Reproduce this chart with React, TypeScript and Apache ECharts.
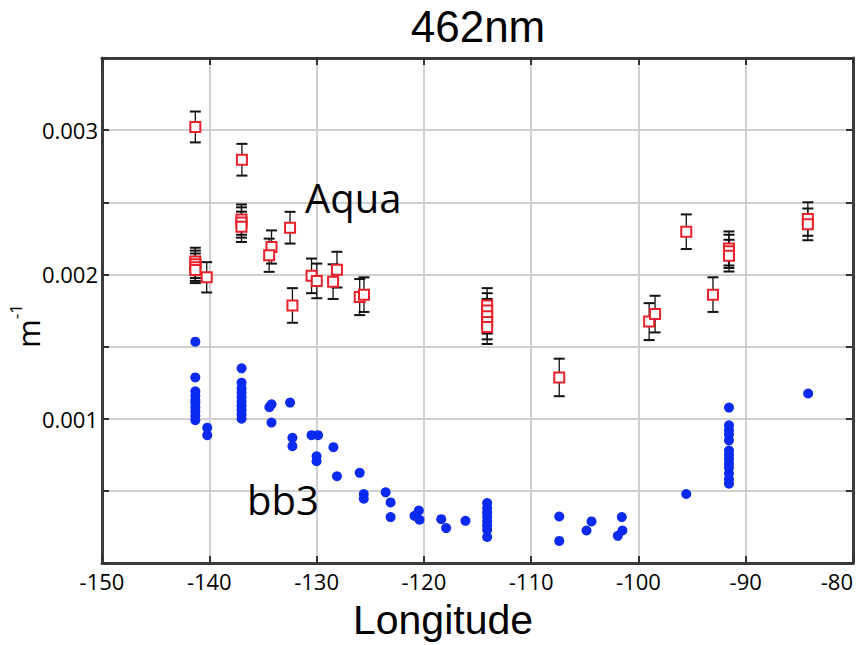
import React, { useEffect, useRef } from "react";
import * as echarts from "echarts";

// Longitude tick range
const xTicks = [-150, -140, -130, -120, -110, -100, -90, -80];

// Aqua (red squares with error bars)
const aquaLon = [
  -141.3, -141.3, -141.3, -141.3, -141.3, -140.24, -136.96, -137.0, -137.0, -137.0,
  -134.2, -134.42, -132.47, -132.25, -130.47, -129.98, -128.46, -128.1, -125.98, -125.58,
  -114.1, -114.1, -114.1, -114.1, -114.1, -107.38, -99.0, -98.45, -95.54, -93.05,
  -91.56, -91.56, -91.56, -84.21, -84.21,
];
const aquaVal = [
  0.003022, 0.00209, 0.00207, 0.00205, 0.00203, 0.00198, 0.002795, 0.00238, 0.00236, 0.00233,
  0.00219, 0.002133, 0.002324, 0.001785, 0.00199, 0.001955, 0.00195, 0.002033, 0.001843, 0.00186,
  0.001785, 0.00175, 0.00171, 0.00167, 0.001635, 0.001286, 0.001673, 0.001725, 0.002296, 0.00186,
  0.00218, 0.00216, 0.00213, 0.002384, 0.002347,
];
const aquaErr = [
  0.000107, 0.000095, 0.000095, 0.000095, 0.00009, 0.000105, 0.00011, 0.000105, 0.000105, 0.000105,
  0.000115, 0.000115, 0.00011, 0.00012, 0.00012, 0.00012, 0.00012, 0.000124, 0.000125, 0.00012,
  0.00012, 0.00012, 0.00012, 0.00012, 0.000117, 0.00013, 0.000128, 0.000127, 0.00012, 0.00012,
  0.000118, 0.000115, 0.00011, 0.000116, 0.00011,
];

// bb3 (blue dots)
const bb3Lon = [
  -141.3, -141.3, -141.3, -141.3, -141.3, -141.3, -141.3, -141.3, -141.3, -141.3,
  -140.19, -140.19,
  -136.99, -136.99, -136.99, -136.99, -136.99, -136.99, -136.99, -136.99, -136.99, -136.99,
  -134.2, -134.4, -134.2, -132.47, -132.25, -132.25, -130.47, -129.86, -130.0, -130.0,
  -128.43, -128.1, -125.98, -125.6, -125.6, -123.56, -123.1, -123.1,
  -120.87, -120.47, -120.4, -118.38, -117.92, -116.12,
  -114.1, -114.1, -114.1, -114.1, -114.1, -114.1, -114.1, -114.1,
  -107.38, -107.38, -104.84, -104.37, -101.55, -101.49, -101.92, -95.54,
  -91.56, -91.56, -91.56, -91.56, -91.56, -91.56, -91.56, -91.56, -91.56, -91.56, -91.56, -91.56, -91.56,
  -84.18,
];
const bb3Val = [
  0.001534, 0.001286, 0.00119, 0.00116, 0.00113, 0.00111, 0.00108, 0.00105, 0.00102, 0.00099,
  0.000938, 0.000886,
  0.001349, 0.00125, 0.00121, 0.00118, 0.00115, 0.00112, 0.00109, 0.00106, 0.00103, 0.001,
  0.0011, 0.00108, 0.000973, 0.001112, 0.000868, 0.00081, 0.000886, 0.000886, 0.00074, 0.000705,
  0.000803, 0.000601, 0.000625, 0.000478, 0.000446, 0.00049, 0.00042, 0.000318,
  0.000327, 0.000364, 0.0003, 0.000304, 0.000242, 0.000292,
  0.000416, 0.00038, 0.00035, 0.00032, 0.00029, 0.00026, 0.00023, 0.00018,
  0.000322, 0.000153, 0.000225, 0.000288, 0.000318, 0.000225, 0.000188, 0.000478,
  0.001077, 0.000954, 0.00092, 0.00089, 0.00085, 0.00078, 0.00075, 0.00072, 0.00069, 0.00066, 0.00062, 0.00058, 0.00055,
  0.001175,
];

const FONT = '"Open Sans", "Noto Sans", sans-serif';
const FONT2 = '"Liberation Sans", Arial, sans-serif';

export default function App() {
  const ref = useRef<HTMLDivElement>(null);
  useEffect(() => {
    if (!ref.current) return;
    const chart = echarts.init(ref.current, null, { renderer: "svg" });
    const tickStyle = { color: "#333", width: 2 };
    const boxLine = { show: true, onZero: false, lineStyle: { color: "#3c3c3c", width: 3 } };
    const yLabelFmt = (v: number) => {
      const k = Math.round(v * 10000);
      if (k > 0 && k % 10 === 0 && k < 35) return (k / 10000).toFixed(3);
      return "";
    };
    const option: any = {
      animation: false,
      backgroundColor: "#fff",
      grid: {
        left: 102,
        right: 8,
        top: 58,
        bottom: 82,
        show: false,
      },
      xAxis: [
        {
          type: "value",
          min: xTicks[0],
          max: xTicks[xTicks.length - 1],
          interval: 10,
          position: "bottom",
          axisLine: boxLine,
          axisTick: { inside: true, length: 7, lineStyle: tickStyle },
          axisLabel: {
            fontFamily: FONT,
            fontSize: 22,
            color: "#000",
            margin: 7,
            alignMaxLabel: "right",
          },
          splitLine: { show: true, lineStyle: { color: "#d0d0d0", width: 2 } },
        },
        {
          type: "value",
          min: xTicks[0],
          max: xTicks[xTicks.length - 1],
          interval: 10,
          position: "top",
          axisLine: boxLine,
          axisTick: { inside: true, length: 7, lineStyle: tickStyle },
          axisLabel: { show: false },
          splitLine: { show: false },
        },
      ],
      yAxis: [
        {
          type: "value",
          min: 0,
          max: 0.0035,
          interval: 0.0005,
          position: "left",
          axisLine: boxLine,
          axisTick: { inside: true, length: 7, lineStyle: tickStyle },
          axisLabel: {
            fontFamily: FONT,
            fontSize: 22,
            color: "#000",
            margin: 4,
            formatter: yLabelFmt,
          },
          splitLine: { show: true, lineStyle: { color: "#d0d0d0", width: 2 } },
        },
        {
          type: "value",
          min: 0,
          max: 0.0035,
          interval: 0.0005,
          position: "right",
          axisLine: boxLine,
          axisTick: { inside: true, length: 7, lineStyle: tickStyle },
          axisLabel: { show: false },
          splitLine: { show: false },
        },
      ],
      graphic: [
        {
          type: "text",
          x: 478,
          y: 26,
          style: {
            text: "462nm",
            fontSize: 44,
            fontFamily: FONT2,
            fill: "#000",
            align: "center",
            verticalAlign: "middle",
          },
        },
        {
          type: "text",
          x: 443,
          y: 620,
          style: {
            text: "Longitude",
            fontSize: 41,
            fontFamily: FONT2,
            fill: "#000",
            align: "center",
            verticalAlign: "middle",
          },
        },
        {
          type: "text",
          x: 305,
          y: 197,
          z: 10,
          style: {
            text: "Aqua",
            fontSize: 40,
            fontFamily: FONT,
            fill: "#000",
            align: "left",
            verticalAlign: "middle",
          },
        },
        {
          type: "text",
          x: 247,
          y: 499,
          z: 10,
          style: {
            text: "bb3",
            fontSize: 40,
            fontFamily: FONT,
            fill: "#000",
            align: "left",
            verticalAlign: "middle",
          },
        },
        {
          type: "text",
          x: 25,
          y: 326,
          rotation: Math.PI / 2,
          style: {
            text: "{m|m}{s|-1}",
            fontFamily: FONT,
            fill: "#000",
            align: "center",
            verticalAlign: "middle",
            rich: {
              m: { fontSize: 31, fontFamily: FONT, lineHeight: 36, verticalAlign: "bottom" },
              s: { fontSize: 17, fontFamily: FONT, lineHeight: 36, verticalAlign: "top" },
            },
          },
        },
      ],
      series: [
        {
          type: "custom",
          name: "Aqua error",
          xAxisIndex: 0,
          yAxisIndex: 0,
          z: 2,
          dimensions: ["lon", "val", "err"],
          encode: { x: 0, y: 1 },
          data: aquaLon.map((x, i) => [x, aquaVal[i], aquaErr[i]]),
          renderItem: (params: any, api: any) => {
            const x = api.value(0);
            const y = api.value(1);
            const e = api.value(2);
            const t = api.coord([x, y + e]);
            const b = api.coord([x, y - e]);
            const w = 5.5;
            return {
              type: "group",
              children: [
                {
                  type: "line",
                  shape: { x1: t[0], y1: t[1], x2: b[0], y2: b[1] },
                  style: { stroke: "#111", lineWidth: 1.3 },
                },
                {
                  type: "line",
                  shape: { x1: t[0] - w, y1: t[1], x2: t[0] + w, y2: t[1] },
                  style: { stroke: "#111", lineWidth: 2 },
                },
                {
                  type: "line",
                  shape: { x1: b[0] - w, y1: b[1], x2: b[0] + w, y2: b[1] },
                  style: { stroke: "#111", lineWidth: 2 },
                },
              ],
            };
          },
        },
        {
          type: "scatter",
          name: "Aqua",
          xAxisIndex: 0,
          yAxisIndex: 0,
          z: 3,
          symbol: "rect",
          symbolSize: 10,
          itemStyle: { color: "#fff", borderColor: "#e8202a", borderWidth: 2, opacity: 1 },
          data: aquaLon.map((x, i) => [x, aquaVal[i]]),
        },
        {
          type: "scatter",
          name: "bb3",
          xAxisIndex: 0,
          yAxisIndex: 0,
          z: 3,
          symbol: "circle",
          symbolSize: 10,
          itemStyle: { color: "#0a2af0", opacity: 1 },
          data: bb3Lon.map((x, i) => [x, bb3Val[i]]),
        },
      ],
    };
    chart.setOption(option);
    return () => chart.dispose();
  }, []);
  return (
    <div
      ref={ref}
      style={{ position: "absolute", left: 0, top: 0, width: 861, height: 645 }}
    />
  );
}
